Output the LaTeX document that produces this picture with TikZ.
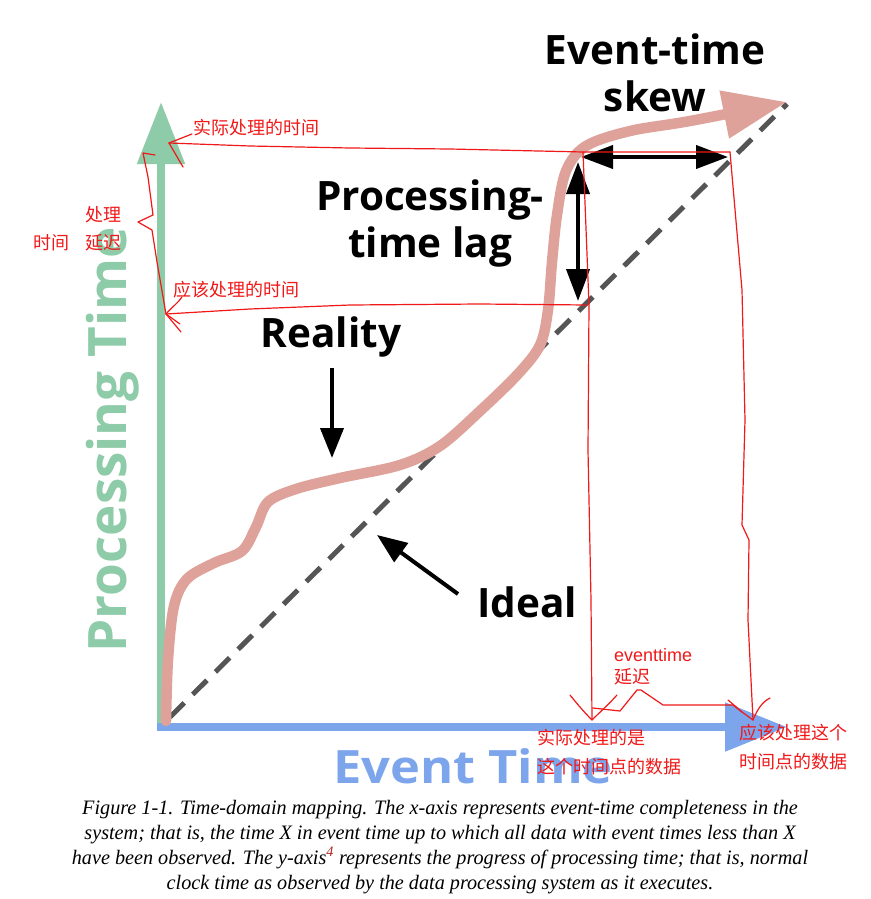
\documentclass[tikz,border=0pt]{standalone}
\usepackage{fontspec}
\setmainfont{Liberation Serif}
\newfontfamily\labelfont{Open Sans}
\newfontfamily\notefont{Liberation Sans}
\newfontfamily\cjkfont{Noto Sans CJK SC}
\usetikzlibrary{arrows.meta}
\definecolor{axisgreen}{HTML}{8ECBA8}
\definecolor{axisblue}{HTML}{7DA5EC}
\definecolor{realpink}{HTML}{DEA29A}
\definecolor{idealgray}{HTML}{555555}
\definecolor{penred}{HTML}{F01818}
\definecolor{footred}{HTML}{B02020}
\begin{document}
\begin{tikzpicture}[x=1pt,y=-1pt,
  bigtext/.style={font=\labelfont\bfseries\fontsize{40.5}{47}\selectfont, align=center, inner sep=0pt},
  axislabel/.style={font=\labelfont\bfseries\fontsize{53}{60}\selectfont, inner sep=0pt},
  pen/.style={draw=penred, line width=1.2pt, line cap=round, line join=round},
  note/.style={text=penred, font=\cjkfont\fontsize{18}{21}\selectfont, inner sep=0pt, anchor=west},
  latinnote/.style={text=penred, font=\notefont\fontsize{18}{21}\selectfont, inner sep=0pt, anchor=west},
  pointer/.style={line width=4pt, -{Triangle[length=30pt,width=23pt]}},
  twoway/.style={line width=4pt, {Triangle[length=32pt,width=23pt]}-{Triangle[length=32pt,width=23pt]}},
]
\useasboundingbox (0,0) rectangle (870,899);

% anchor points of the chart
\coordinate (ytip) at (161,102);
\coordinate (xtip) at (787,727);
\coordinate (idealstart) at (170,717);
\coordinate (idealend) at (787,104);

% axes
\draw[axisgreen, line width=8.5pt, -{Triangle[length=62pt,width=46pt]}] (161,731) -- (ytip);
\draw[axisblue, line width=8.5pt, -{Triangle[length=62pt,width=47pt]}] (157,727) -- (xtip);

% axis titles
\node[axislabel, text=axisgreen, rotate=90] (ylabel) at (113,440) {Processing Time};
\node[font=\labelfont\bfseries\fontsize{46}{52}\selectfont, inner sep=0pt, text=axisblue,
  xscale=1.1] (xlabel) at (473,766) {Event Time};

% ideal line
\draw[idealgray, line width=5pt, dash pattern=on 20pt off 12pt] (idealstart) -- (idealend);

% reality curve
\draw[realpink, line width=10.5pt, line cap=round, -{Triangle[length=64pt,width=46pt]}]
  plot[smooth, tension=0.55] coordinates {(166,721) (168,660) (174,606) (187,579) (214,563)
  (242,551) (256,527) (268,502) (296,489) (340,478) (400,465) (440,446) (480,411)
  (518,374) (540,345) (548,310) (552,262) (557,215) (566,171) (586,146) (630,131)
  (690,121) (787,102)};

% labels
\node[bigtext] (reality) at (331,337) {Reality};
\node[bigtext] (ideal) at (527,602) {Ideal};
\node[bigtext] (lag) at (430,223) {Processing-\\time lag};
\node[bigtext] (skew) at (655,73) {Event-time\\skew};

\coordinate (realitytail) at (332,368);
\coordinate (realityhead) at (332,458);
\coordinate (idealtail) at (458,594);
\coordinate (idealhead) at (377,535);
\draw[pointer] (realitytail) -- (realityhead);
\draw[pointer] (idealtail) -- (idealhead);

\coordinate (lagtop) at (578,162);
\coordinate (lagbottom) at (578,301);
\coordinate (skewleft) at (581,157);
\coordinate (skewright) at (728,157);
\draw[twoway] (lagtop) -- (lagbottom);
\draw[twoway] (skewleft) -- (skewright);

% hand-written notes: processing time axis
\coordinate (actualy) at (169,143);
\coordinate (expecty) at (166,314);
\draw[pen] (730,152) -- (583,152) -- (450,149) -- (350,148) -- (250,146) -- (actualy);
\draw[pen] (192,134) -- (actualy) -- (183,167);
\draw[pen] (587,305) -- (480,304) -- (350,305) -- (250,309) -- (expecty);
\draw[pen] (182,297) .. controls (178,303) and (172,307) .. (expecty) -- (180,324);
\draw[pen] (expecty) -- (181,332);
\draw[pen] (155,155) -- (143,153) -- (148,177) -- (153,215) -- (138,222) -- (152,230)
  -- (157,262) -- (expecty);

\node[note] (actualytext) at (193,128) {实际处理的时间};
\node[note] (expectytext) at (173,290) {应该处理的时间};
\node[note] (delaytext) at (85,215) {处理};
\node[note] (delaytext2) at (85,243) {延迟};
\node[note] (timetext) at (33,243) {时间};

% hand-written notes: event time axis
\coordinate (actualx) at (592,720);
\coordinate (expectx) at (753,720);
\draw[pen] (583,152) -- (589,305) -- (588,450) -- (591,600) -- (actualx);
\draw[pen] (730,152) -- (742,290) -- (745,420) -- (742,525) -- (749,540) -- (748,620) -- (expectx);
\draw[pen] (570,695) .. controls (578,705) and (585,713) .. (actualx) .. controls (600,712) and (610,703) .. (617,695);
\draw[pen] (728,700) -- (742,712) -- (expectx) .. controls (757,710) and (762,702) .. (770,698);
\draw[pen] (593,708) -- (620,711) -- (637,690) -- (641,690) -- (663,705) -- (733,705) -- (742,712);

\node[latinnote] (skewtext) at (614,655) {eventtime};
\node[note] (skewtext2) at (614,677) {延迟};
\node[note] (actualxtext) at (537,738) {实际处理的是};
\node[note] (actualxtext2) at (537,767) {这个时间点的数据};
\node[note] (expectxtext) at (739,733) {应该处理这个};
\node[note] (expectxtext2) at (739,762) {时间点的数据};

% caption
\node[font=\itshape\fontsize{20.5}{25}\selectfont, align=center, inner sep=0pt, xscale=0.985] (caption) at (440,847)
  {Figure 1-1. Time-domain mapping. The x-axis represents event-time completeness in the\\
   system; that is, the time X in event time up to which all data with event times less than X\\
   have been observed. The y-axis\textsuperscript{\textcolor{footred}{4}} represents the progress of processing time; that is, normal\\
   clock time as observed by the data processing system as it executes.};
\end{tikzpicture}
\end{document}
